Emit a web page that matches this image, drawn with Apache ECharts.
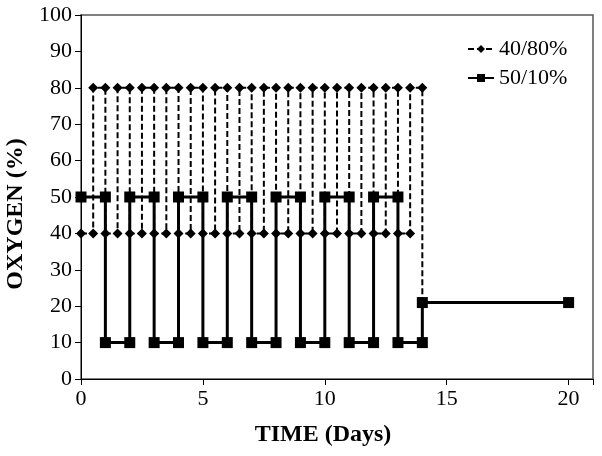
<!DOCTYPE html>
<html>
<head>
<meta charset="utf-8">
<script src="https://cdn.jsdelivr.net/npm/echarts@6/dist/echarts.min.js"></script>
<style>
  html, body { margin: 0; padding: 0; background: #fff; }
  #chart { width: 602px; height: 456px; }
</style>
</head>
<body>
<div id="chart"></div>
<script>
  // 40/80% : alternating every half day, then room air
  var timeA = [0, 0.5, 0.5, 1, 1, 1.5, 1.5, 2, 2, 2.5, 2.5, 3, 3, 3.5, 3.5, 4, 4, 4.5, 4.5, 5, 5,
    5.5, 5.5, 6, 6, 6.5, 6.5, 7, 7, 7.5, 7.5, 8, 8, 8.5, 8.5, 9, 9, 9.5, 9.5, 10, 10,
    10.5, 10.5, 11, 11, 11.5, 11.5, 12, 12, 12.5, 12.5, 13, 13, 13.5, 13.5, 14, 14, 20]
  var oxyA = [40, 40, 80, 80, 40, 40, 80, 80, 40, 40, 80, 80, 40, 40, 80, 80, 40, 40, 80, 80, 40,
    40, 80, 80, 40, 40, 80, 80, 40, 40, 80, 80, 40, 40, 80, 80, 40, 40, 80, 80, 40,
    40, 80, 80, 40, 40, 80, 80, 40, 40, 80, 80, 40, 40, 80, 80, 21, 21]

  // 50/10% : alternating every day, then room air
  var timeB = [0, 1, 1, 2, 2, 3, 3, 4, 4, 5, 5, 6, 6, 7, 7, 8, 8, 9, 9, 10, 10,
    11, 11, 12, 12, 13, 13, 14, 14, 20]
  var oxyB = [50, 50, 10, 10, 50, 50, 10, 10, 50, 50, 10, 10, 50, 50, 10, 10, 50, 50, 10, 10, 50,
    50, 10, 10, 50, 50, 10, 10, 21, 21]

  var xTicks = [0, 5, 10, 15, 20]
  var yTicks = [0, 10, 20, 30, 40, 50, 60, 70, 80, 90, 100]

  function pairs (xs, ys) {
    return xs.map(function (x, i) { return [x, ys[i]] })
  }

  var font = 'Liberation Serif'
  var chart = echarts.init(document.getElementById('chart'), null, { renderer: 'canvas' })
  var option = {
    backgroundColor: '#fff',
    animation: false,
    grid: {
      left: 81, right: 9, top: 15, bottom: 77,
      outerBoundsMode: 'none',
      containLabel: false,
      show: true, borderColor: '#555', borderWidth: 1.5
    },
    legend: {
      orient: 'vertical',
      left: 462,
      top: 33,
      itemWidth: 26,
      itemHeight: 10,
      itemGap: 7,
      data: ['40/80%', '50/10%'],
      textStyle: { fontFamily: font, fontSize: 22, color: '#000' }
    },
    xAxis: {
      type: 'value',
      min: 0,
      max: 21,
      interval: 5,
      name: 'TIME (Days)',
      nameLocation: 'middle',
      nameGap: 44,
      nameTextStyle: { fontFamily: font, fontSize: 24, fontWeight: 'bold', color: '#000', padding: [0, 28, 0, 0] },
      axisLine: { show: true, onZero: false, lineStyle: { color: '#000', width: 1 } },
      axisTick: { show: true, length: 6, lineStyle: { color: '#000' } },
      splitLine: { show: false },
      axisLabel: {
        fontFamily: font, fontSize: 22, color: '#000', margin: 9,
        formatter: function (v) { return xTicks.indexOf(v) >= 0 ? v : '' }
      }
    },
    yAxis: {
      type: 'value',
      min: 0,
      max: 100,
      interval: 10,
      name: 'OXYGEN (%)',
      nameLocation: 'middle',
      nameGap: 52,
      nameTextStyle: { fontFamily: font, fontSize: 24, fontWeight: 'bold', color: '#000', padding: [0, 34, 0, 0] },
      axisLine: { show: true, lineStyle: { color: '#000', width: 1 } },
      axisTick: { show: true, length: 6, lineStyle: { color: '#000' } },
      splitLine: { show: false },
      axisLabel: {
        fontFamily: font, fontSize: 22, color: '#000', margin: 9,
        formatter: function (v) { return yTicks.indexOf(v) >= 0 ? v : '' }
      }
    },
    series: [
      {
        name: '50/10%',
        type: 'line',
        data: pairs(timeB, oxyB),
        symbol: 'rect',
        symbolSize: 11,
        showAllSymbol: true,
        itemStyle: { color: '#000' },
        lineStyle: { color: '#000', width: 3 }
      },
      {
        name: '40/80%',
        type: 'line',
        data: pairs(timeA, oxyA),
        symbol: 'diamond',
        symbolSize: 10,
        showAllSymbol: true,
        itemStyle: { color: '#000' },
        lineStyle: { color: '#000', width: 2, type: [6, 3] }
      }
    ]
  }
  chart.setOption(option)
</script>
</body>
</html>
